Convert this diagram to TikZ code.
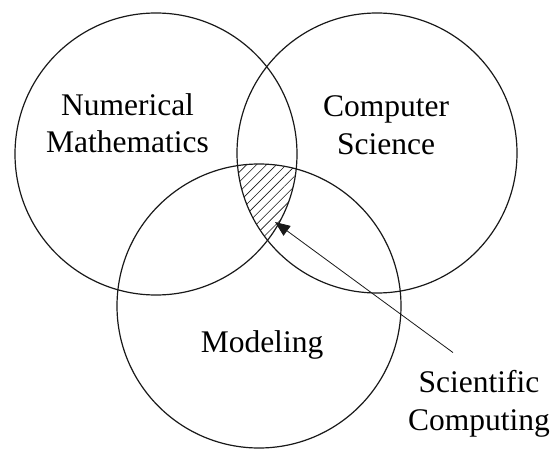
\documentclass[tikz,border=0pt]{standalone}
\usepackage{fontspec}
\setmainfont{Liberation Serif}
\usetikzlibrary{arrows.meta,patterns.meta}
\begin{document}
\begin{tikzpicture}[x=1pt,y=1pt]

  % ---- sizing knobs ----
  \def\VDxA{156}  \def\VDyA{297}  \def\VDrA{141}  % numerical mathematics
  \def\VDxB{377}  \def\VDyB{298}  \def\VDrB{140}  % computer science
  \def\VDxC{259}  \def\VDyC{145}  \def\VDrC{142}  % modeling

  \useasboundingbox (0,0) rectangle (554,451);

  \definecolor{VDLine}{gray}{0.10}

  \tikzset{
    vdlabel/.style={align=center, inner sep=0pt, font=\fontsize{31.5}{37.5}\selectfont},
    vdcircle/.style={VDLine, line width=1.2pt},
  }

  % ---- hatched core ----
  \begin{scope}
    \clip (\VDxA,\VDyA) circle[radius=\VDrA];
    \clip (\VDxB,\VDyB) circle[radius=\VDrB];
    \fill[pattern={Lines[angle=45,distance=7pt,line width=0.6pt]}, pattern color=VDLine]
      (\VDxC,\VDyC) circle[radius=\VDrC];
  \end{scope}

  % ---- circles ----
  \draw[vdcircle] (\VDxA,\VDyA) circle[radius=\VDrA];
  \draw[vdcircle] (\VDxB,\VDyB) circle[radius=\VDrB];
  \draw[vdcircle] (\VDxC,\VDyC) circle[radius=\VDrC];

  % ---- labels ----
  \node[vdlabel] (numath) at (127.5,328) {Numerical\\Mathematics};
  \node[vdlabel] (compsci) at (386,326) {Computer\\Science};
  \node[vdlabel, anchor=base] (model) at (262,99) {Modeling};
  \node[vdlabel] (scicomp) at (479,47) {Scientific\\Computing};

  % ---- pointer ----
  \coordinate (core) at (275,229);
  \coordinate (tail) at ([xshift=-26pt, yshift=18pt]scicomp.north);
  \draw[VDLine, line width=0.8pt, -{Triangle[length=15pt,width=12pt]}] (tail) -- (core);

\end{tikzpicture}
\end{document}
